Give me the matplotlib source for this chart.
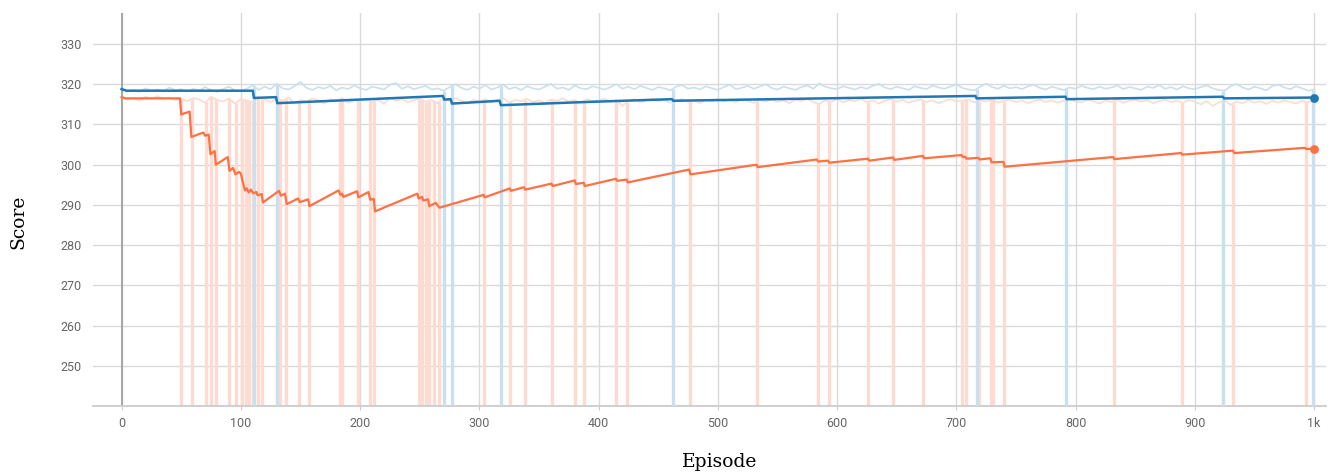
import numpy as np
import matplotlib
matplotlib.use("Agg")
from matplotlib import pyplot as plt

# Raw scores, one sample every 5 episodes (0..1000)
blue_raw = [
    318.9, 318.2, 318.6, 318.1, 319.0, 318.4, 318.7, 318.3, 319.2, 318.5, 318.8,
    318.2, 318.9, 318.4, 319.3, 318.6, 318.1, 318.8, 319.4, 318.5, 318.3,
    318.9, 319.8, 318.6, 319.4, 318.8, 320.1, 319.0, 318.7, 319.5, 320.6,
    319.1, 318.6, 319.3, 318.9, 319.6, 318.5, 319.2, 318.8, 319.7, 319.0,
    318.6, 319.4, 319.1, 318.7, 319.9, 320.3, 318.9, 319.5, 318.8, 319.2,
    319.6, 318.7, 319.0, 318.4, 319.3, 320.0, 319.1, 318.6, 319.4, 318.9,
    319.8, 318.7, 319.2, 319.9, 318.8, 319.3, 318.6, 319.5, 319.0, 318.7,
    319.4, 320.1, 318.9, 319.2, 318.6, 319.7, 319.0, 318.8, 319.5, 319.1,
    318.7, 319.3, 320.0, 318.9, 319.4, 318.8, 319.6, 319.1, 318.6, 319.3,
    319.0, 318.5, 319.4, 319.8, 318.9, 319.2, 318.7, 319.5, 319.0, 318.6,
    319.3, 319.9, 318.8, 319.1, 319.6, 318.9, 319.4, 320.0, 319.1, 318.7,
    319.4, 319.0, 318.6, 319.3, 319.7, 318.9, 320.2, 319.4, 319.0, 318.8,
    319.5, 319.1, 318.7, 319.3, 318.9, 319.6, 320.1, 319.2, 318.8, 319.4,
    319.0, 318.6, 319.5, 319.1, 318.8, 319.7, 319.2, 318.9, 319.4, 320.0,
    319.1, 318.7, 318.5, 319.4, 320.2, 319.3, 318.9, 319.6, 319.0, 319.3,
    318.8, 319.5, 319.9, 319.1, 318.7, 319.4, 319.0, 318.6, 319.2, 318.9,
    319.6, 319.1, 318.8, 319.4, 318.9, 319.2, 319.7, 318.8, 319.3, 319.0,
    318.6, 319.4, 319.1, 319.8, 318.9, 319.3, 318.7, 319.5, 319.0, 318.8,
    319.3, 319.7, 319.0, 318.6, 318.4, 319.5, 320.1, 319.2, 318.7, 319.4,
    319.0, 318.5, 319.6, 319.9, 319.2, 318.8, 319.5, 319.0, 318.4, 318.7,
]
orange_raw = [
    316.8, 316.2, 316.6, 315.9, 316.9, 316.4, 317.1, 316.3, 316.7, 316.0, 316.5,
    315.8, 316.6, 316.2, 315.4, 316.9, 316.1, 315.7, 316.5, 315.2, 316.3,
    316.0, 315.5, 316.8, 316.2, 315.6, 316.4, 315.9, 316.7, 315.3, 316.1,
    315.7, 316.5, 316.0, 315.2, 316.3, 315.8, 316.6, 315.4, 316.1, 315.9,
    316.4, 315.6, 316.2, 315.1, 316.7, 315.9, 316.3, 315.5, 316.0, 316.5,
    315.7, 316.1, 315.3, 316.4, 315.8, 316.6, 315.9, 315.2, 316.2, 315.7,
    316.3, 315.5, 316.0, 316.6, 315.4, 316.1, 315.8, 316.4, 315.6, 316.0,
    315.3, 316.2, 315.9, 316.5, 315.7, 316.1, 315.4, 316.3, 315.8, 316.0,
    316.4, 315.6, 316.1, 314.6, 315.9, 316.3, 315.5, 316.0, 316.4, 315.7,
    316.1, 315.4, 315.9, 316.3, 315.6, 316.0, 315.3, 316.2, 315.8, 316.4,
    315.7, 316.0, 315.5, 316.3, 315.9, 315.4, 316.1, 315.7, 316.2, 315.6,
    316.0, 315.3, 316.2, 315.8, 316.4, 315.6, 315.1, 316.0, 315.7, 316.3,
    315.5, 316.1, 315.8, 316.4, 315.6, 316.0, 315.2, 315.9, 316.3, 315.7,
    316.1, 315.4, 315.9, 316.2, 315.6, 316.0, 315.3, 315.8, 316.3, 315.7,
    315.9, 316.2, 315.5, 316.0, 315.7, 316.3, 315.4, 315.9, 316.1, 315.6,
    316.0, 315.3, 315.8, 316.2, 315.6, 316.0, 315.4, 315.9, 316.3, 315.7,
    315.5, 316.1, 315.8, 315.2, 316.0, 315.6, 316.2, 315.4, 315.9, 316.1,
    315.7, 316.0, 315.3, 315.8, 316.2, 315.6, 315.9, 315.4, 316.1, 315.7,
    315.0, 315.8, 314.6, 315.5, 316.0, 314.9, 315.7, 315.2, 316.1, 315.4,
    315.8, 315.1, 315.9, 315.4, 316.0, 315.6, 315.2, 315.9, 315.5, 315.8,
]
raw_ep = np.arange(0, 1001, 5)

# Episodes where the score collapsed (values far below the plotted range)
blue_drop_ep = [111, 130, 270, 277, 318, 462, 717, 792, 924, 999]
blue_drop_val = [128, 120, 70, 20, -30, 130, -110, -160, -120, 120]
orange_drop_ep = [50, 59, 71, 75, 79, 90, 96, 101, 104, 107, 110, 114, 118,
                  133, 138, 149, 157, 183, 185, 198, 208, 212, 249, 252, 255,
                  258, 262, 266, 304, 326, 338, 361, 380, 388, 415, 424, 477,
                  533, 584, 593, 626, 647, 672, 705, 708, 719, 729, 731, 740,
                  832, 889, 932, 993]
orange_drop_val = [116, -59, 210, -45, 40, 160, 150, 130, 70, 190, 150, 200, 50,
                   140, -40, 170, 80, 100, 200, 20, 60, -80, 10, 190, 60,
                   40, 180, -30, 150, 130, 100, 80, -20, 60, 120, 0, -90,
                   10, 30, 20, 0, -10, -60, -50, -40, -90, -100, 150, -60,
                   -150, -130, -400, 20]

# Running mean of the score
blue_smooth_ep = [0, 2, 4, 110, 111, 129.5, 130.5, 269.5, 270.5, 276, 277,
                  317, 318, 390, 461.5, 462.5, 716, 717, 791.5, 792.5,
                  923.5, 924.5, 1000]
blue_smooth = [318.8, 318.6, 318.4, 318.4, 316.6, 316.8, 315.3, 317.1, 316.2,
               316.3, 315.2, 315.9, 314.8, 315.6, 316.3, 315.9, 317.1, 316.5,
               316.9, 316.3, 316.9, 316.5, 316.7]
orange_smooth_ep = [0, 3, 49, 50, 57, 58.5, 68.5, 70, 73, 74.5, 78, 79, 89,
                    90.5, 93.5, 95.5, 98.5, 100, 101.5, 103.5, 105, 106.5,
                    108.5, 110.5, 113, 114, 117.5, 118.5, 132, 133.5, 137,
                    138.5, 148, 149.5, 156.5, 157.5, 182, 183.5, 185, 186,
                    197.5, 198.5, 207, 208.5, 211.5, 212.5, 248, 249, 252, 253,
                    257, 258, 263.5, 266.5, 303.5, 304.5, 325.5, 326.5, 337.5,
                    338.5, 360.5, 361.5, 380, 381, 387.5, 388.5, 414.5, 415.5,
                    423.5, 424.5, 476, 477, 532.5, 533.5, 583, 584, 592.5,
                    593.5, 626, 627, 647, 648, 672, 673, 704.5, 705.5, 707.5,
                    708.5, 718.5, 719.5, 728.5, 729.5, 739.5, 740.5, 831.5,
                    832.5, 888.5, 889.5, 932, 933, 992.5, 993.5, 1000]
orange_smooth = [316.8, 316.5, 316.5, 312.5, 313.2, 306.9, 308.0, 307.2, 307.5,
                 302.6, 303.4, 300.0, 301.9, 298.5, 299.2, 297.6, 298.2, 297.8,
                 295.8, 293.6, 294.1, 293.1, 293.8, 292.9, 293.2, 292.4, 292.7,
                 290.6, 293.5, 292.3, 292.8, 290.2, 291.6, 290.7, 291.4, 289.7,
                 293.6, 292.5, 292.8, 292.0, 293.4, 291.9, 293.2, 291.3, 291.5,
                 288.4, 292.8, 291.6, 292.0, 291.1, 291.4, 289.7, 290.5, 289.3,
                 292.5, 291.9, 294.1, 293.5, 294.4, 293.8, 295.3, 294.7, 296.1,
                 295.2, 295.5, 294.7, 296.5, 296.0, 296.3, 295.6, 298.8, 297.6,
                 300.0, 299.4, 301.3, 300.8, 301.0, 300.5, 301.5, 301.0, 301.8,
                 301.2, 302.2, 301.6, 302.4, 301.9, 302.0, 301.5, 301.7, 301.3,
                 301.6, 300.6, 300.7, 299.5, 301.9, 301.4, 302.9, 302.5, 303.5,
                 302.9, 304.2, 303.9, 304.0]

x_ticks = [0, 100, 200, 300, 400, 500, 600, 700, 800, 900, 1000]
x_tick_labels = ['0', '100', '200', '300', '400', '500', '600', '700', '800', '900', '1k']
y_ticks = [250, 260, 270, 280, 290, 300, 310, 320, 330]

BLUE = '#1f77b4'
ORANGE = '#ff7043'
BLUE_LIGHT = '#c8e0f0'
ORANGE_LIGHT = '#fddbd0'

fig = plt.figure(figsize=(13.35, 4.73), dpi=100)
ax = fig.add_axes([93 / 1335, 1 - 406 / 473, (1326 - 93) / 1335, (406 - 12.7) / 473])

# raw curves with their collapses
ax.vlines(orange_drop_ep, orange_drop_val,
          np.interp(orange_drop_ep, raw_ep, orange_raw),
          color=ORANGE_LIGHT, lw=2.4, zorder=2)
ax.plot(raw_ep, orange_raw, color=ORANGE_LIGHT, lw=1.2, zorder=2)
ax.vlines(blue_drop_ep, blue_drop_val,
          np.interp(blue_drop_ep, raw_ep, blue_raw),
          color=BLUE_LIGHT, lw=2.4, zorder=3)
ax.plot(raw_ep, blue_raw, color=BLUE_LIGHT, lw=1.2, zorder=3)

# running means
ax.plot(orange_smooth_ep, orange_smooth, color=ORANGE, lw=1.6, zorder=5)
ax.plot(blue_smooth_ep, blue_smooth, color=BLUE, lw=1.8, zorder=5)
ax.scatter([orange_smooth_ep[-1]], [orange_smooth[-1]], s=40, color=ORANGE, zorder=6, linewidths=0)
ax.scatter([blue_smooth_ep[-1]], [blue_smooth[-1]], s=40, color=BLUE, zorder=6, linewidths=0)

ax.axvline(0, color='#a0a0a0', lw=1.3, zorder=1)

ax.set_xlim(-24, 1010)
ax.set_ylim(240, 337.8)
ax.set_xticks(x_ticks)
ax.set_xticklabels(x_tick_labels)
ax.set_yticks(y_ticks)
ax.grid(True, color='#dadada', lw=1.0, zorder=0)
ax.set_axisbelow(True)

for side in ['top', 'right', 'left']:
    ax.spines[side].set_visible(False)
ax.spines['bottom'].set_color('#cccccc')
ax.spines['bottom'].set_linewidth(1.3)

for lab in ax.get_xticklabels() + ax.get_yticklabels():
    lab.set_fontfamily('Roboto')
ax.tick_params(axis='x', length=3, color='#cccccc', pad=5, labelsize=9, labelcolor='#666666')
ax.tick_params(axis='y', length=0, pad=8, labelsize=9, labelcolor='#666666')

fig.text(720 / 1335, 1 - 462 / 473, 'Episode', family='DejaVu Serif', fontsize=13.5,
         ha='center', va='center')
fig.text(18 / 1335, 1 - 222 / 473, 'Score', family='DejaVu Serif', fontsize=13.5,
         ha='center', va='center', rotation=90)

fig.savefig('out.png', dpi=100)
